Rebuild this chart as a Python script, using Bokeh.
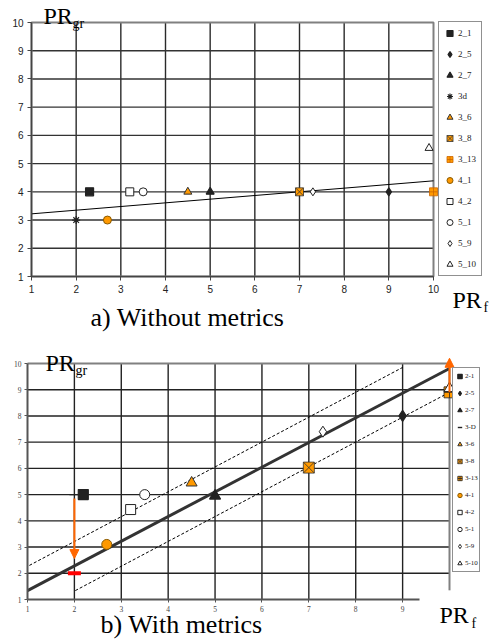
from bokeh.plotting import figure
from bokeh.models import (Legend, LegendItem, Label, Arrow, NormalHead, FixedTicker,
                          LinearAxis, Range1d)
from bokeh.layouts import column
from bokeh.embed import file_html
from bokeh.resources import INLINE

ORANGE = "#FF9900"
ARROW_C = "#FF6600"

# ---------------- data: a) Without metrics ----------------
names_a = ["2_1", "2_5", "2_7", "3d", "3_6", "3_8", "3_13", "4_1", "4_2", "5_1", "5_9", "5_10"]
x_a = [2.3, 9.0, 5.0, 2.0, 4.5, 7.0, 10.0, 2.7, 3.2, 3.5, 7.3, 9.9]
y_a = [4.0, 4.0, 4.0, 3.0, 4.0, 4.0, 4.0, 3.0, 4.0, 4.0, 4.0, 5.55]
trend_a_x = [1, 10]
trend_a_y = [3.22, 4.39]

# ---------------- data: b) With metrics ----------------
names_b = ["2-1", "2-5", "2-7", "3-D", "3-6", "3-8", "3-13", "4-1", "4-2", "5-1", "5-9", "5-10"]
x_b = [2.19, 9.0, 5.0, 2.0, 4.5, 7.0, 10.0, 2.69, 3.2, 3.5, 7.3, 10.0]
y_b = [5.0, 8.0, 4.95, 5.0, 5.45, 6.03, 8.9, 3.1, 4.43, 5.0, 7.4, 9.05]
fit_b_x = [1, 10]
fit_b_y = [1.34, 9.81]
upper_b_x = [1.04, 9.0]
upper_b_y = [2.3, 9.85]
lower_b_x = [2.02, 10.0]
lower_b_y = [1.34, 8.9]
moved_b_x = [2.0]
moved_b_y = [2.0]
arrow_down_b = [2.0, 4.85, 2.0, 2.56]
arrow_up_b = [10.0, 8.9, 10.0, 10.2]

ticks = [1, 2, 3, 4, 5, 6, 7, 8, 9, 10]
grid_ticks = [2, 3, 4, 5, 6, 7, 8, 9]
ticks_b = [1, 2, 3, 4, 5, 6, 7, 8, 9]
AX_MIN, AX_MAX = 1, 10

# marker styles (marker, fill, line, line width)
styles_a = [
    ("square", "#222222", "#222222", 1.2),
    ("diamond", "#222222", "#222222", 1.2),
    ("triangle", "#222222", "#222222", 1.2),
    ("asterisk", None, "#222222", 1.2),
    ("triangle", ORANGE, "#333333", 1.0),
    ("square_x", ORANGE, "#333333", 0.8),
    ("square_cross", ORANGE, "#CC6600", 0.8),
    ("circle", ORANGE, "#8a5a00", 1.0),
    ("square", "white", "#222222", 1.0),
    ("circle", "white", "#222222", 1.0),
    ("diamond", "white", "#222222", 1.0),
    ("triangle", "white", "#222222", 1.0),
]
styles_b = list(styles_a)
styles_b[3] = ("dash", None, "#222222", 1.4)
styles_b[6] = ("square_cross", ORANGE, "#222222", 0.8)

SERIF = "Liberation Serif"
SANS = "Liberation Sans"


def make_fig(w, h, px_lo, px_hi, py_lo, py_hi):
    """px_lo/px_hi: canvas x of value 1 / 10; py_lo/py_hi: canvas y (from top) of value 1 / 10."""
    sx = (px_hi - px_lo) / (AX_MAX - AX_MIN)
    sy = (py_lo - py_hi) / (AX_MAX - AX_MIN)
    xr = Range1d(AX_MIN - px_lo / sx, AX_MIN + (w - px_lo) / sx)
    yr = Range1d(AX_MIN - (h - py_lo) / sy, AX_MIN + py_lo / sy)
    p = figure(width=w, height=h, x_range=xr, y_range=yr, x_axis_type=None, y_axis_type=None,
               output_backend="svg", toolbar_location=None, title=None,
               min_border=0, min_border_left=0, min_border_right=0,
               min_border_top=0, min_border_bottom=0)
    p.background_fill_color = "white"
    p.border_fill_color = "white"
    p.outline_line_color = None
    return p


def add_axes(p, xt, yt, font, fsize, fcolor, tick_out, standoff, lcolor, lwidth, xbounds):
    xa = LinearAxis(fixed_location=AX_MIN, ticker=FixedTicker(ticks=xt), bounds=xbounds)
    ya = LinearAxis(fixed_location=AX_MIN, ticker=FixedTicker(ticks=yt), bounds=(AX_MIN, AX_MAX))
    for ax in (xa, ya):
        ax.minor_tick_line_color = None
        ax.major_tick_in = 0
        ax.major_tick_out = tick_out
        ax.major_label_standoff = standoff
        ax.axis_line_color = lcolor
        ax.axis_line_width = lwidth
        ax.major_tick_line_color = lcolor
        ax.major_label_text_font = font
        ax.major_label_text_font_size = fsize
        ax.major_label_text_color = fcolor
    p.add_layout(xa, "below")
    p.add_layout(ya, "left")


def lbl(p, h, x, baseline_from_top, text, fs):
    # place by vertical middle of the text, computed from the wanted baseline
    mid = baseline_from_top - 0.32 * fs
    p.add_layout(Label(x=x, y=h - mid, x_units="screen", y_units="screen", text=text,
                       text_font=SERIF, text_font_size=f"{fs}px", text_color="black",
                       text_baseline="middle"))


# ---------------- figure a ----------------
H1 = 335
p1 = make_fig(490, H1, 31, 433, 276, 22)
p1.segment(x0=grid_ticks, y0=[AX_MIN] * len(grid_ticks), x1=grid_ticks, y1=[AX_MAX] * len(grid_ticks),
           line_color="#2a2a2a", line_width=1.4)
p1.segment(x0=[AX_MIN] * len(grid_ticks), y0=grid_ticks, x1=[AX_MAX] * len(grid_ticks), y1=grid_ticks,
           line_color="#333333", line_width=1.4)
p1.quad(left=[AX_MIN], right=[AX_MAX], bottom=[AX_MIN], top=[AX_MAX], fill_color=None,
        line_color="#808080", line_width=2)
add_axes(p1, ticks, ticks, SANS, "10px", "#222222", 4, 4, "#444444", 1.5, (AX_MIN, AX_MAX))

p1.line(trend_a_x, trend_a_y, line_color="black", line_width=1)

items_a = []
for i, nm in enumerate(names_a):
    mk, fc, lc, lw = styles_a[i]
    r = p1.scatter([x_a[i]], [y_a[i]], marker=mk, size=8, fill_color=fc, line_color=lc, line_width=lw)
    items_a.append(LegendItem(label=nm, renderers=[r]))

leg_a = Legend(items=items_a, location=(438, H1 - 276), orientation="vertical",
               label_text_font=SERIF, label_text_font_size="9px", label_text_color="#222222",
               glyph_width=15, glyph_height=16, label_height=16, label_width=20,
               label_standoff=1, spacing=5, padding=3, margin=0,
               border_line_color="#222222", border_line_width=1.5, background_fill_color="white",
               background_fill_alpha=1.0)
p1.add_layout(leg_a, "center")

lbl(p1, H1, 43, 23, "PR", 24)
lbl(p1, H1, 72, 27, "gr", 14)
lbl(p1, H1, 452, 307, "PR", 24)
lbl(p1, H1, 483, 311, "f", 14)
lbl(p1, H1, 90, 325, "a) Without metrics", 26)

# ---------------- figure b ----------------
H2 = 643 - H1
p2 = make_fig(490, H2, 27, 449, 599 - H1, 363 - H1)
p2.segment(x0=grid_ticks, y0=[AX_MIN] * len(grid_ticks), x1=grid_ticks, y1=[AX_MAX] * len(grid_ticks),
           line_color="#222222", line_width=1.4)
p2.segment(x0=[AX_MIN] * len(grid_ticks), y0=grid_ticks, x1=[AX_MAX] * len(grid_ticks), y1=grid_ticks,
           line_color="#222222", line_width=1.4)
p2.segment(x0=[AX_MIN], y0=[AX_MAX], x1=[AX_MAX], y1=[AX_MAX], line_color="#808080", line_width=2)
p2.segment(x0=[AX_MAX], y0=[1.35], x1=[AX_MAX], y1=[AX_MAX], line_color="#808080", line_width=2)
add_axes(p2, ticks_b, ticks, SERIF, "7.5px", "#444444", 3, 3, "#555555", 2, (AX_MIN, 9.36))

p2.line(upper_b_x, upper_b_y, line_color="black", line_width=1, line_dash="3 2")
p2.line(lower_b_x, lower_b_y, line_color="black", line_width=1, line_dash="3 2")
p2.line(fit_b_x, fit_b_y, line_color="#333333", line_width=3)

p2.scatter(moved_b_x, moved_b_y, marker="dash", size=13, line_color="red", line_width=4)

items_b = []
for i, nm in enumerate(names_b):
    mk, fc, lc, lw = styles_b[i]
    sz = 11 if mk in ("triangle", "square_x", "square_cross", "diamond") else 10
    r = p2.scatter([x_b[i]], [y_b[i]], marker=mk, size=sz, fill_color=fc, line_color=lc, line_width=lw)
    items_b.append(LegendItem(label=nm, renderers=[r]))

p2.add_layout(Arrow(end=NormalHead(size=9, fill_color=ARROW_C, line_color=ARROW_C),
                    x_start=arrow_down_b[0], y_start=arrow_down_b[1],
                    x_end=arrow_down_b[2], y_end=arrow_down_b[3],
                    line_color=ARROW_C, line_width=2))
p2.add_layout(Arrow(end=NormalHead(size=9, fill_color=ARROW_C, line_color=ARROW_C),
                    x_start=arrow_up_b[0], y_start=arrow_up_b[1],
                    x_end=arrow_up_b[2], y_end=arrow_up_b[3],
                    line_color=ARROW_C, line_width=2))

leg_b = Legend(items=items_b, location=(452, 643 - 572), orientation="vertical",
               label_text_font=SERIF, label_text_font_size="7px", label_text_color="#222222",
               glyph_width=11, glyph_height=14, label_height=14, label_width=10,
               label_standoff=0, spacing=3, padding=1, margin=0,
               border_line_color="#222222", border_line_width=1.2, background_fill_color="white",
               background_fill_alpha=1.0)
p2.add_layout(leg_b, "center")

lbl(p2, 643, 45, 370, "PR", 24)
lbl(p2, 643, 75, 374, "gr", 14)
lbl(p2, 643, 439, 622, "PR", 24)
lbl(p2, 643, 471, 627, "f", 14)
lbl(p2, 643, 100, 632, "b) With metrics", 26)

layout = column(p1, p2)
open("out.html", "w").write(file_html(layout, INLINE))
